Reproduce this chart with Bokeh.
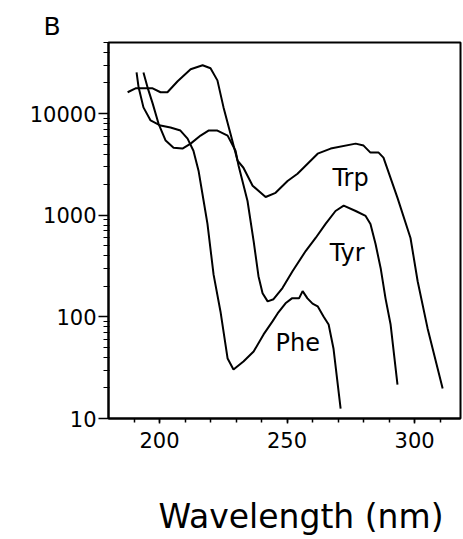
from bokeh.plotting import figure
from bokeh.models import FixedTicker, Label, PrintfTickFormatter, Title
from bokeh.embed import file_html
from bokeh.resources import INLINE

# ---- data (wavelength in nm, molar absorptivity) ----
trp_nm = [187.5, 190.6, 197.3, 200.4, 203.1, 207.1, 212.2, 216.9, 220.0, 222.7,
          225.1, 227.8, 230.6, 232.9, 236.5, 241.6, 245.5, 250.2, 254.1, 262.0,
          267.1, 276.9, 280.0, 282.7, 285.9, 287.8, 293.3, 298.4, 301.2, 305.1, 311.0]
trp_eps = [16200, 17700, 17700, 16200, 16200, 20800, 27300, 29900, 27900, 21200,
           11500, 6350, 3440, 2930, 1950, 1510, 1660, 2170, 2560, 4030,
           4520, 5060, 4840, 4130, 4130, 3680, 1480, 597, 224, 77, 19.7]

tyr_nm = [193.7, 195.3, 197.3, 199.6, 202.4, 205.5, 209.0, 212.2, 216.1, 219.2,
          222.7, 226.7, 229.8, 231.0, 234.5, 236.9, 238.8, 240.4, 242.4, 244.7,
          248.2, 252.2, 257.3, 261.2, 265.1, 269.0, 272.2, 276.9, 280.8, 282.7,
          284.7, 286.7, 288.6, 290.6, 293.3]
tyr_eps = [25400, 18100, 12600, 7980, 5420, 4620, 4520, 5060, 6070, 6800,
           6800, 6070, 4310, 3070, 1380, 557, 251, 171, 142, 149,
           192, 283, 444, 597, 821, 1100, 1240, 1100, 984, 821,
           520, 301, 152, 84, 21.5]

phe_nm = [191.0, 191.8, 193.7, 196.5, 200.4, 204.3, 208.2, 211.0, 213.3, 215.3,
          217.3, 218.8, 221.2, 223.9, 226.7, 229.0, 232.9, 236.9, 240.8, 244.3,
          246.3, 249.4, 251.9, 254.7, 256.1, 258.0, 260.0, 262.0, 264.3, 266.3,
          268.2, 271.0]
phe_eps = [25400, 18100, 11500, 8550, 7620, 7280, 6800, 5670, 4310, 2740,
           1380, 821, 260, 113, 38.9, 30.3, 36.3, 45.6, 67.2, 90.2,
           108, 136, 152, 152, 179, 152, 135, 127, 101, 84,
           48.9, 12.5]

x_major = [200, 250, 300]
x_minor = [190, 200, 210, 220, 230, 240, 250, 260, 270, 280, 290, 300, 310]
y_major = [10, 100, 1000, 10000]
y_minor = [m * d for d in (10, 100, 1000, 10000) for m in range(2, 10) if m * d <= 50000]

FONT = "DejaVu Sans"

p = figure(width=463, height=539, x_range=(180, 318), y_range=(10, 50000),
           y_axis_type="log", output_backend="svg", toolbar_location=None,
           min_border_left=108, min_border_right=3, min_border_top=42,
           min_border_bottom=121)

p.grid.visible = False
p.outline_line_color = "black"
p.outline_line_width = 2
p.background_fill_color = "white"
p.border_fill_color = "white"

for xs, ys in ((trp_nm, trp_eps), (tyr_nm, tyr_eps), (phe_nm, phe_eps)):
    p.line(xs, ys, line_color="black", line_width=2)

xa = p.xaxis[0]
xa.ticker = FixedTicker(ticks=x_major, minor_ticks=x_minor)
xa.axis_line_width = 2
xa.major_tick_in = 0
xa.major_tick_out = 5
xa.minor_tick_in = 0
xa.minor_tick_out = 4
xa.major_tick_line_width = 1.5
xa.minor_tick_line_width = 1.5
xa.major_label_text_font = FONT
xa.major_label_text_font_size = "21px"
xa.major_label_text_color = "black"
xa.major_label_standoff = 8
# blank spacer label to push the title further down
xa.axis_label = " "
xa.axis_label_text_font_size = "14px"
xa.axis_label_standoff = 24

ya = p.yaxis[0]
ya.ticker = FixedTicker(ticks=y_major, minor_ticks=y_minor)
ya.formatter = PrintfTickFormatter(format="%d")
ya.axis_line_width = 2
ya.major_tick_in = 0
ya.major_tick_out = 10
ya.minor_tick_in = 1
ya.minor_tick_out = 5
ya.major_tick_line_width = 1.5
ya.minor_tick_line_width = 1.2
ya.major_label_text_font = FONT
ya.major_label_text_font_size = "21px"
ya.major_label_text_color = "black"
ya.major_label_standoff = 2

for txt, lx, ly in (("Trp", 267.8, 2323), ("Tyr", 266.7, 427), ("Phe", 245.5, 55.1)):
    p.add_layout(Label(x=lx, y=ly, text=txt, text_font=FONT, text_font_size="24px",
                       text_color="black", text_align="left", text_baseline="alphabetic"))

p.add_layout(Title(text="B", align="left", offset=-65, standoff=4,
                   text_font=FONT, text_font_size="25px", text_font_style="normal",
                   text_color="black"), "above")
p.add_layout(Title(text="Wavelength (nm)", align="left", offset=50, standoff=2,
                   text_font=FONT, text_font_size="33px", text_font_style="normal",
                   text_color="black"), "below")

open("out.html", "w").write(file_html(p, INLINE))
